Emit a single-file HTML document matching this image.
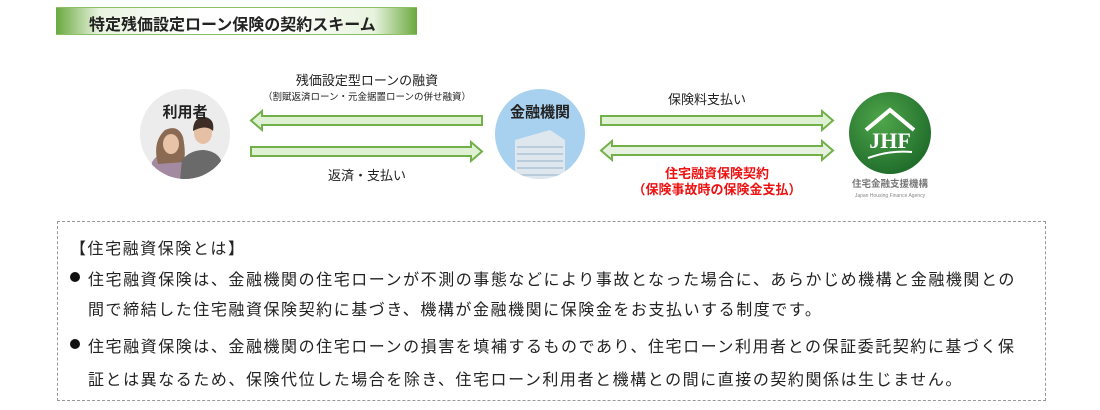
<!DOCTYPE html>
<html><head><meta charset="utf-8"><style>
body{margin:0;width:1100px;height:410px;background:#fff;position:relative;overflow:hidden;font-family:"Liberation Sans","Noto Sans CJK JP",sans-serif;color:#222}
.a{position:absolute;white-space:nowrap}
.title{left:56px;top:7px;width:361px;height:28px;background:linear-gradient(90deg,#6aa93e 0%,#e8f3df 12%,#ffffff 40%,#ffffff 60%,#e8f3df 88%,#6aa93e 100%);border-top:1px solid #8cc063;border-bottom:1px solid #8cc063;box-sizing:border-box}
.title span{position:absolute;left:33px;top:3px;font-size:16px;font-weight:bold;color:#222}
.box{left:57px;top:221px;width:989px;height:180px;border:1px dashed #999;box-sizing:border-box}
.t{font-size:16px;letter-spacing:1.55px}
.dot{position:absolute;width:10px;height:10px;border-radius:50%;background:#111}
</style></head><body>
<div class="a title"><span>特定残価設定ローン保険の契約スキーム</span></div>

<svg class="a" style="left:0;top:0" width="1100" height="220">
 <defs>
  <clipPath id="c1"><circle cx="185" cy="134" r="45"/></clipPath>
  <clipPath id="c2"><circle cx="540" cy="134" r="45"/></clipPath>
  <radialGradient id="g3" cx="0.4" cy="0.35" r="0.7"><stop offset="0" stop-color="#4fa64a"/><stop offset="1" stop-color="#1e6a2a"/></radialGradient>
 </defs>
 <circle cx="185" cy="134" r="45" fill="#ececec"/>
 <g clip-path="url(#c1)">
  <path d="M150 180 L152 162 Q158 152 172 152 Q186 154 190 167 L192 180Z" fill="#a48aa0"/>
  <path d="M158 164 Q152 142 165 130 Q178 124 183 137 Q186 152 184 162 Z" fill="#8a6a52"/>
  <ellipse cx="171" cy="144" rx="8" ry="10" fill="#e8c3a8"/>
  <path d="M180 180 L182 160 Q190 150 204 150 Q220 152 222 164 L224 180Z" fill="#6a6a6a"/>
  <ellipse cx="203" cy="133" rx="9" ry="11" fill="#e6c0a4"/>
  <path d="M193 131 Q193 117 205 117 Q215 119 213 131 Q206 124 193 131Z" fill="#3e2e25"/>
 </g>
 <text x="185" y="117" font-size="15" font-weight="bold" text-anchor="middle" fill="#222">利用者</text>
 <circle cx="540" cy="134" r="45" fill="#a7d1ee"/>
 <g clip-path="url(#c2)">
  <path d="M515 140 L550 130 L565 140 L565 185 L515 185Z" fill="#dfe7ee"/>
  <g stroke="#b9ccdc" stroke-width="2">
   <line x1="517" y1="147" x2="563" y2="147"/><line x1="517" y1="154" x2="563" y2="154"/>
   <line x1="517" y1="161" x2="563" y2="161"/><line x1="517" y1="168" x2="563" y2="168"/><line x1="517" y1="175" x2="563" y2="175"/>
  </g>
 </g>
 <text x="540" y="117" font-size="15" font-weight="bold" text-anchor="middle" fill="#222">金融機関</text>
 <circle cx="890" cy="133" r="41" fill="url(#g3)"/>
 <path d="M866 130 L890 110 L914 130" fill="none" stroke="#fff" stroke-width="4"/>
 <text x="890" y="148" font-size="22" font-weight="bold" fill="#fff" text-anchor="middle" font-family="Liberation Serif,serif">JHF</text>
 <path d="M868 158 Q890 150 912 152" fill="none" stroke="#fff" stroke-width="2"/>
 <text x="890" y="187" font-size="9.5" font-weight="bold" fill="#777" text-anchor="middle">住宅金融支援機構</text>
 <text x="890" y="197" font-size="5" fill="#888" text-anchor="middle">Japan Housing Finance Agency</text>
 <g fill="#def2d3" stroke="#72b04a" stroke-width="2">
  <path d="M482 116 L482 125 L262 125 L262 130 L251 120.5 L262 111 L262 116Z"/>
  <path d="M251 147 L251 156 L471 156 L471 161 L482 151.5 L471 142 L471 147Z"/>
  <path d="M601 116 L601 125 L822 125 L822 130 L833 120.5 L822 111 L822 116Z"/>
  <path d="M612 146 L822 146 L822 141 L833 150.5 L822 160 L822 155 L612 155 L612 160 L601 150.5 L612 141Z" fill="#e6f1df"/>
 </g>
 <text x="367" y="85" font-size="13" text-anchor="middle" fill="#222">残価設定型ローンの融資</text>
 <text x="367" y="100" font-size="9.5" text-anchor="middle" fill="#222">（割賦返済ローン・元金据置ローンの併せ融資）</text>
 <text x="367" y="180" font-size="13" text-anchor="middle" fill="#222">返済・支払い</text>
 <text x="707" y="104" font-size="13" text-anchor="middle" fill="#222">保険料支払い</text>
 <text x="717" y="178" font-size="13" font-weight="bold" text-anchor="middle" fill="#ee1111">住宅融資保険契約</text>
 <text x="717" y="194" font-size="13" font-weight="bold" text-anchor="middle" fill="#ee1111">（保険事故時の保険金支払）</text>
</svg>

<div class="a box"></div>
<div class="a t" style="left:70px;top:235px">【住宅融資保険とは】</div>
<div class="dot" style="left:70px;top:272px"></div>
<div class="a t" style="left:88px;top:266px">住宅融資保険は、金融機関の住宅ローンが不測の事態などにより事故となった場合に、あらかじめ機構と金融機関との</div>
<div class="a t" style="left:88px;top:296px">間で締結した住宅融資保険契約に基づき、機構が金融機関に保険金をお支払いする制度です。</div>
<div class="dot" style="left:70px;top:339px"></div>
<div class="a t" style="left:88px;top:333px">住宅融資保険は、金融機関の住宅ローンの損害を填補するものであり、住宅ローン利用者との保証委託契約に基づく保</div>
<div class="a t" style="left:88px;top:366px">証とは異なるため、保険代位した場合を除き、住宅ローン利用者と機構との間に直接の契約関係は生じません。</div>
</body></html>
